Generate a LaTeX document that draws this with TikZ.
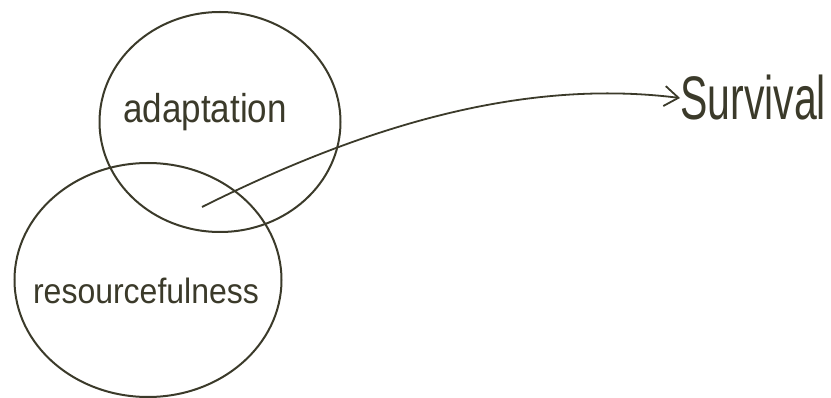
\documentclass[tikz,border=0pt]{standalone}
\usepackage{fontspec}
\setmainfont{Liberation Sans}
\usetikzlibrary{shapes.geometric,arrows.meta}
\definecolor{ink}{HTML}{3B3A2A}
\begin{document}
\begin{tikzpicture}[x=1pt,y=-1pt,
  ring/.style={draw=ink, line width=2pt, ellipse, inner sep=0pt},
  word/.style={text=ink, inner sep=0pt},
  link/.style={draw=ink, line width=1.8pt, -{Straight Barb[length=14pt,width=20pt,line width=1.8pt]}}]
\useasboundingbox (0,0) rectangle (831,398);
\node[ring, minimum width=241pt, minimum height=220pt] (top) at (220,122) {};
\node[ring, minimum width=267pt, minimum height=234pt] (bottom) at (148,280) {};
\node[word, font=\fontsize{35}{40}\selectfont] (adapt) at (205,112) {\scalebox{1}[1.15]{adaptation}};
\node[word, font=\fontsize{32}{36}\selectfont] (res) at (146,291) {\scalebox{1}[1.1]{resourcefulness}};
\node[word, anchor=west, font=\fontsize{41}{46}\selectfont] (surv) at (680,98) {\scalebox{1}[1.5]{Survival}};
\coordinate (start) at (202,207);
\draw[link] (start) .. controls (360,128) and (520,78) .. (surv.west);
\end{tikzpicture}
\end{document}
